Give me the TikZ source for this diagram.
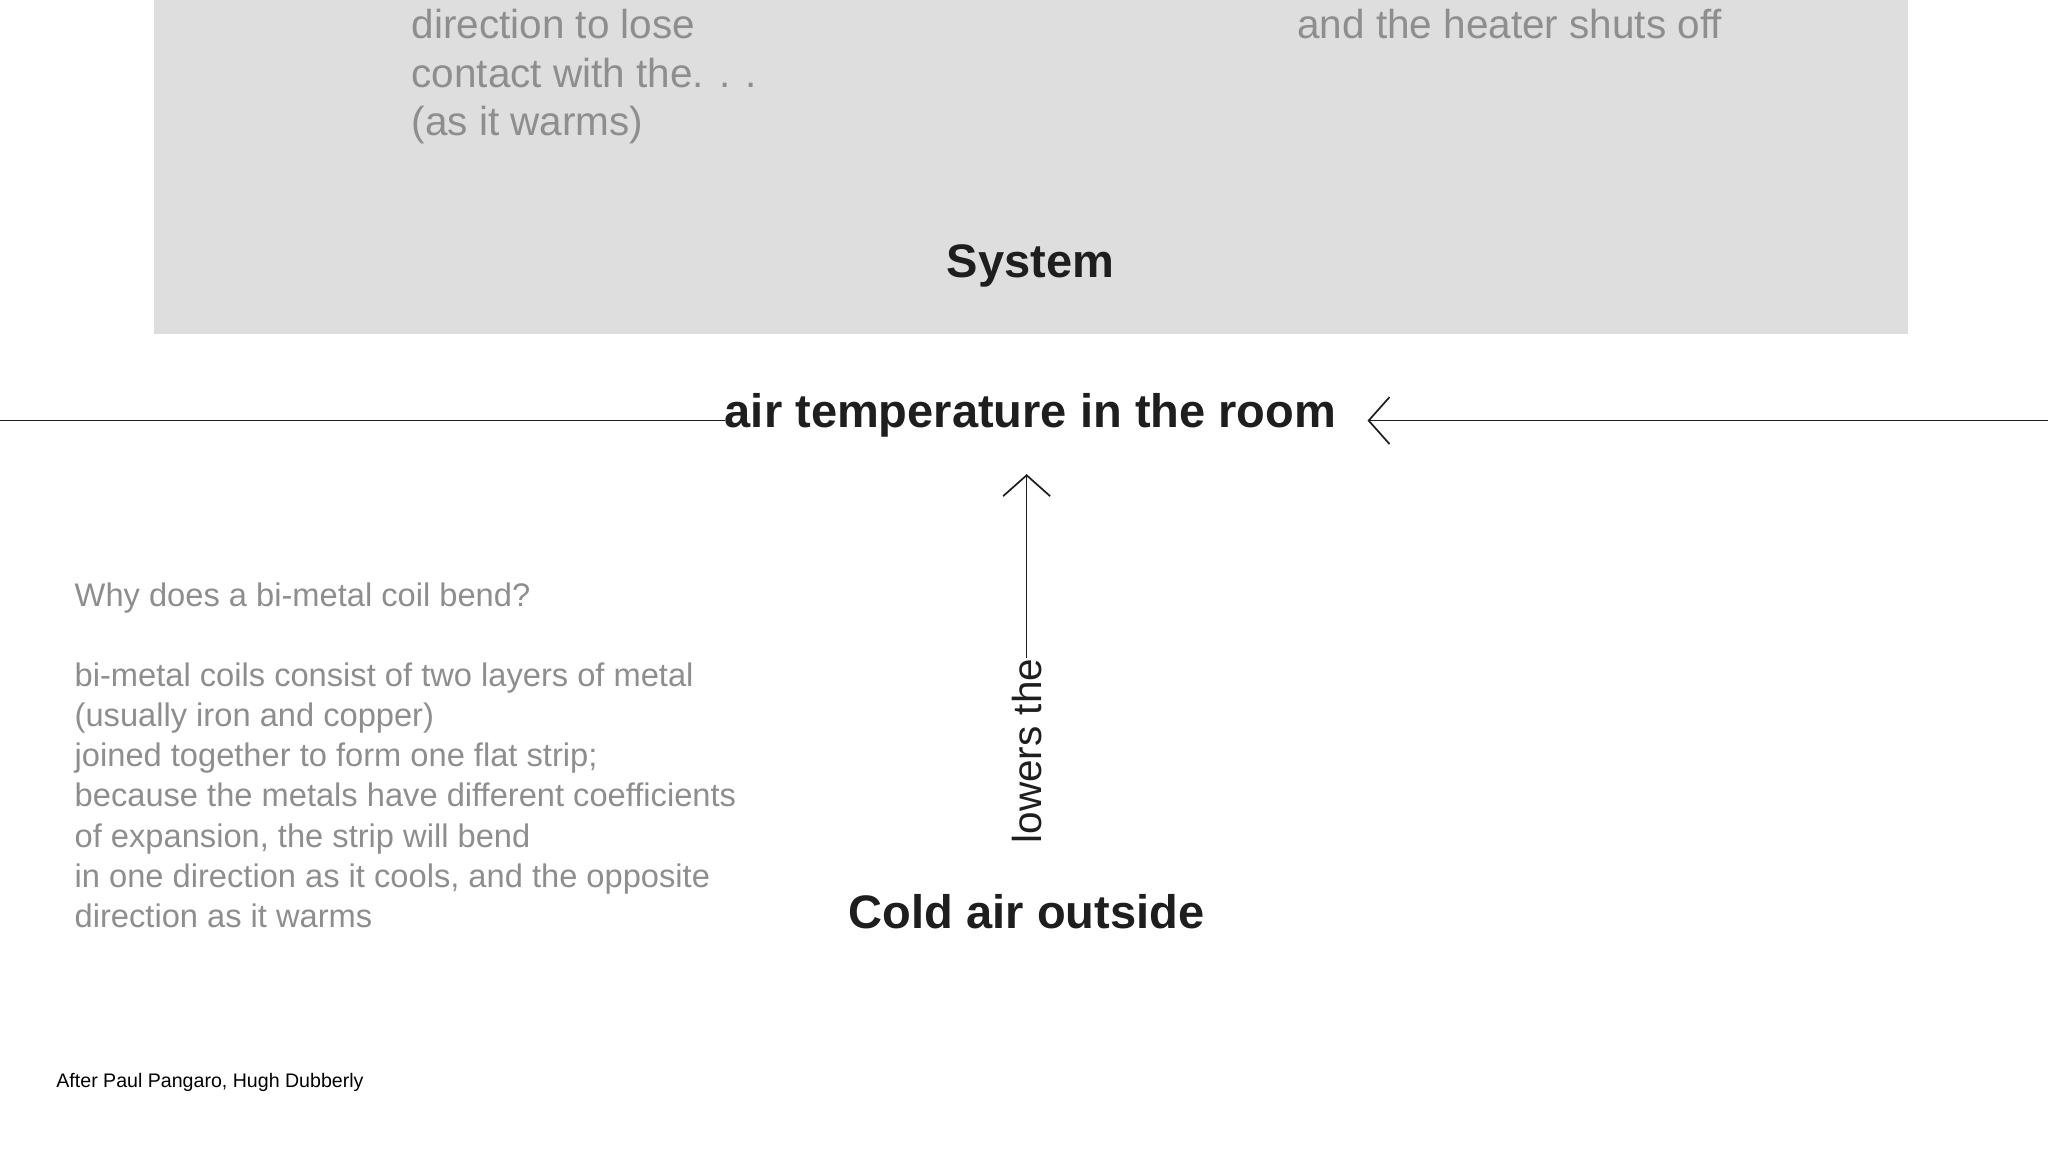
\documentclass[tikz,border=0pt]{standalone}
\usepackage{fontspec}
\setmainfont{Liberation Sans}
\usetikzlibrary{arrows.meta}
\definecolor{boxgray}{HTML}{DEDEDE}
\definecolor{txtgray}{HTML}{8E8E8E}
\definecolor{ink}{HTML}{1E1E1E}
\begin{document}
\begin{tikzpicture}[x=1pt,y=-1pt,
  title/.style={font=\fontsize{36}{40}\selectfont\bfseries, text=ink, inner sep=0pt},
  graybig/.style={font=\fontsize{31}{37}\selectfont, text=txtgray, inner sep=0pt, align=left, anchor=north west},
  graysmall/.style={font=\fontsize{25}{30.7}\selectfont, text=txtgray, inner sep=0pt, align=left, anchor=north west},
  conn/.style={line width=1.3pt, draw=ink},
  tip/.style={-{Straight Barb[length=16pt,width=36pt,line width=1.3pt]}}]
\useasboundingbox (0,0) rectangle (1568,882);
\fill[boxgray] (118,-5) rectangle (1461,256);
\node[graybig] (leftbox) at (315,7) {direction to lose\\contact with the. . .\\(as it warms)};
\node[graybig] (rightbox) at (993,7) {and the heater shuts off};
\node[title] (system) at (789,204) {System};
\node[title] (air) at (789,318) {air temperature in the room};
\coordinate (lend) at (0,322);
\coordinate (rend) at (1568,322);
\draw[conn] (lend) -- (air.west |- lend) ++(-12,0);
\draw[conn] (lend) -- (533,322);
\draw[conn,tip] (rend) -- (1047,322);
\node[title] (cold) at (786,698) {Cold air outside};
\node[font=\fontsize{31}{36}\selectfont, text=ink, rotate=90, inner sep=0pt] (lowers) at (786,575) {lowers the};
\draw[conn,tip] (lowers.east) -- (786,363);
\node[graysmall] (why) at (57,446) {Why does a bi-metal coil bend?\\[30.7pt]bi-metal coils consist of two layers of metal\\(usually iron and copper)\\joined together to form one flat strip;\\because the metals have different coefficients\\of expansion, the strip will bend\\in one direction as it cools, and the opposite\\direction as it warms};
\node[font=\fontsize{15}{18}\selectfont, text=black, inner sep=0pt, anchor=west] (credit) at (43,829) {After Paul Pangaro, Hugh Dubberly};
\end{tikzpicture}
\end{document}
